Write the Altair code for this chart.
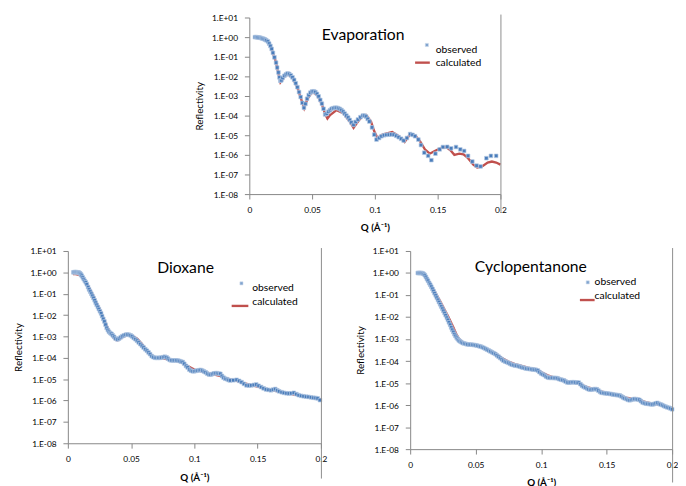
import altair as alt
import pandas as pd
import numpy as np

# ---------------- data (Q in 1/Angstrom, log10 reflectivity) ----------------
evap_obs_q = [0.0045, 0.0055, 0.0065, 0.0075, 0.0085, 0.0095, 0.0105, 0.0115, 0.0125, 0.0135,
              0.0148, 0.0158, 0.0168, 0.0178, 0.0188, 0.0200, 0.0213, 0.0222, 0.0232, 0.0240,
              0.0247, 0.0255, 0.0265, 0.0279, 0.0292, 0.0305, 0.0318, 0.0331, 0.0344, 0.0357,
              0.0370, 0.0383, 0.0396, 0.0409, 0.0422, 0.0435, 0.0447, 0.0460, 0.0473, 0.0486,
              0.0500, 0.0513, 0.0526, 0.0539, 0.0552, 0.0565, 0.0578, 0.0591, 0.0604, 0.0617,
              0.0630, 0.0643, 0.0656, 0.0669, 0.0682, 0.0695, 0.0708, 0.0721, 0.0734, 0.0747,
              0.0760, 0.0773, 0.0787, 0.0800, 0.0813, 0.0830, 0.0847, 0.0865, 0.0885, 0.0904,
              0.0917, 0.0930, 0.0943, 0.0956, 0.0977, 0.0995, 0.1013, 0.1034, 0.1053, 0.1073,
              0.1092, 0.1112, 0.1131, 0.1151, 0.1170, 0.1190, 0.1209, 0.1229, 0.1255, 0.1281,
              0.1300, 0.1320, 0.1346, 0.1367, 0.1393, 0.1424, 0.1450, 0.1482, 0.1516, 0.1542,
              0.1576, 0.1607, 0.1646, 0.1680, 0.1711, 0.1742, 0.1776, 0.1810, 0.1841, 0.1888,
              0.1924, 0.1966]
evap_obs_lr = [0.0, 0.0, -0.01, -0.02, -0.03, -0.05, -0.07, -0.09, -0.12, -0.16,
               -0.22, -0.33, -0.45, -0.6, -0.8, -1.03, -1.3, -1.55, -1.8, -2.05,
               -2.22, -2.2, -2.08, -1.97, -1.9, -1.85, -1.88, -1.95, -2.05, -2.18,
               -2.35, -2.55, -2.8, -3.05, -3.35, -3.6, -3.4, -3.14, -2.95, -2.83,
               -2.77, -2.76, -2.8, -2.89, -3.02, -3.2, -3.39, -3.65, -3.94, -3.9,
               -3.8, -3.72, -3.65, -3.62, -3.6, -3.6, -3.62, -3.66, -3.72, -3.8,
               -3.9, -4.0, -4.1, -4.22, -4.35, -4.47, -4.32, -4.2, -4.08, -4.0,
               -4.0, -4.05, -4.17, -4.3, -4.6, -4.97, -5.22, -5.14, -5.05, -5.0,
               -4.98, -4.97, -4.96, -4.97, -5.03, -5.1, -5.18, -5.27, -5.14, -4.94,
               -4.98, -5.05, -5.22, -5.5, -5.89, -6.05, -6.27, -5.94, -5.72, -5.6,
               -5.59, -5.67, -5.6, -5.72, -5.8, -6.05, -6.34, -6.55, -6.59, -6.17,
               -6.05, -6.05]

evap_calc_q = [0.0045, 0.008, 0.011, 0.0135, 0.0148, 0.0168, 0.0188, 0.0213, 0.0232, 0.0248,
               0.0262, 0.0279, 0.0305, 0.0344, 0.0383, 0.0409, 0.0437, 0.0462, 0.0500, 0.0539,
               0.0578, 0.0604, 0.0622, 0.0643, 0.0695, 0.0747, 0.0800, 0.0830, 0.0865, 0.0904,
               0.0930, 0.0969, 0.0995, 0.1021, 0.1060, 0.1138, 0.1190, 0.1237, 0.1281, 0.1320,
               0.1359, 0.1398, 0.1437, 0.1477, 0.1529, 0.1568, 0.1602, 0.1633, 0.1672, 0.1706,
               0.1742, 0.1784, 0.1815, 0.1854, 0.1898, 0.1932, 0.1966, 0.2000]
evap_calc_lr = [0.0, -0.02, -0.07, -0.15, -0.22, -0.45, -0.8, -1.3, -1.85, -2.3,
                -2.18, -1.99, -1.88, -2.07, -2.57, -3.08, -3.62, -3.16, -2.8, -2.92,
                -3.42, -3.92, -4.15, -3.97, -3.72, -3.87, -4.3, -4.62, -4.3, -4.0,
                -3.97, -4.3, -4.8, -5.14, -4.97, -4.84, -5.05, -5.34, -4.94, -5.0,
                -5.3, -5.72, -5.94, -5.8, -5.64, -5.6, -5.77, -6.0, -5.94, -5.97,
                -6.17, -6.5, -6.64, -6.59, -6.39, -6.34, -6.39, -6.5]

diox_obs_q = [0.0044, 0.0052, 0.0060, 0.0068, 0.0076, 0.0083, 0.0090, 0.0097, 0.0104, 0.0110,
              0.0118, 0.0126, 0.0134, 0.0142, 0.0150, 0.0160, 0.0168, 0.0177, 0.0186, 0.0194,
              0.0203, 0.0212, 0.0220, 0.0228, 0.0237, 0.0245, 0.0254, 0.0263, 0.0271, 0.0280,
              0.0289, 0.0298, 0.0307, 0.0316, 0.0325, 0.0335, 0.0345, 0.0355, 0.0366, 0.0378,
              0.0392, 0.0405, 0.0418, 0.0430, 0.0443, 0.0457, 0.0470, 0.0483, 0.0496, 0.0508,
              0.0521, 0.0534, 0.0547, 0.0560, 0.0573, 0.0586, 0.0599, 0.0612, 0.0625, 0.0638,
              0.0650, 0.0663, 0.0676, 0.0690, 0.0703, 0.0715, 0.0728, 0.0740, 0.0754, 0.0767,
              0.0780, 0.0792, 0.0805, 0.0818, 0.0831, 0.0844, 0.0857, 0.0870, 0.0883, 0.0895,
              0.0908, 0.0920, 0.0934, 0.0947, 0.0960, 0.0973, 0.0986, 0.0999, 0.1012, 0.1025,
              0.1038, 0.1050, 0.1063, 0.1076, 0.1089, 0.1102, 0.1115, 0.1128, 0.1141, 0.1154,
              0.1167, 0.1180, 0.1193, 0.1205, 0.1218, 0.1231, 0.1244, 0.1257, 0.1270, 0.1283,
              0.1308, 0.1334, 0.1354, 0.1373, 0.1392, 0.1412, 0.1431, 0.1450, 0.1470, 0.1489,
              0.1508, 0.1528, 0.1547, 0.1566, 0.1586, 0.1605, 0.1622, 0.1639, 0.1655, 0.1670,
              0.1690, 0.1708, 0.1728, 0.1747, 0.1766, 0.1786, 0.1806, 0.1825, 0.1844, 0.1863,
              0.1883, 0.1902, 0.1922, 0.1941, 0.1958, 0.1974, 0.1992]
diox_obs_lr = [0.0, 0.01, 0.01, 0.01, 0.0, 0.0, -0.02, -0.05, -0.1, -0.16,
               -0.24, -0.32, -0.4, -0.47, -0.56, -0.69, -0.8, -0.9, -1.0, -1.1,
               -1.2, -1.31, -1.42, -1.52, -1.62, -1.72, -1.82, -1.92, -2.05, -2.18,
               -2.3, -2.45, -2.6, -2.7, -2.78, -2.84, -2.88, -2.95, -3.02, -3.1,
               -3.14, -3.1, -3.04, -2.99, -2.95, -2.92, -2.91, -2.92, -2.95, -3.0,
               -3.07, -3.13, -3.2, -3.28, -3.36, -3.44, -3.52, -3.6, -3.67, -3.75,
               -3.83, -3.92, -3.97, -4.0, -4.0, -4.0, -4.0, -3.99, -3.97, -3.95,
               -3.98, -4.04, -4.1, -4.12, -4.12, -4.12, -4.12, -4.13, -4.15, -4.18,
               -4.2, -4.28, -4.38, -4.45, -4.55, -4.6, -4.63, -4.63, -4.61, -4.6,
               -4.58, -4.57, -4.6, -4.64, -4.68, -4.74, -4.78, -4.79, -4.76, -4.73,
               -4.72, -4.72, -4.74, -4.75, -4.85, -4.93, -4.98, -5.0, -5.04, -5.06,
               -5.05, -5.03, -5.08, -5.14, -5.22, -5.29, -5.3, -5.29, -5.27, -5.25,
               -5.31, -5.37, -5.43, -5.48, -5.5, -5.52, -5.49, -5.46, -5.52, -5.57,
               -5.61, -5.64, -5.66, -5.67, -5.66, -5.64, -5.7, -5.75, -5.78, -5.8,
               -5.82, -5.83, -5.85, -5.87, -5.88, -5.9, -5.98]

diox_calc_q = [0.0040, 0.006, 0.008, 0.010, 0.012, 0.014, 0.016, 0.018, 0.020, 0.0225,
               0.025, 0.0275, 0.030, 0.0325, 0.035, 0.0375, 0.0392, 0.041, 0.0435, 0.046,
               0.049, 0.052, 0.055, 0.058, 0.061, 0.064, 0.067, 0.070, 0.075, 0.080,
               0.085, 0.090, 0.095, 0.100, 0.105, 0.110, 0.115, 0.120, 0.125, 0.130,
               0.135, 0.140, 0.145, 0.150, 0.155, 0.160, 0.165, 0.170, 0.175, 0.180,
               0.185, 0.190, 0.195, 0.200]
diox_calc_lr = [-0.08, -0.08, -0.1, -0.16, -0.28, -0.42, -0.62, -0.86, -1.1, -1.4,
                -1.7, -2.05, -2.4, -2.72, -2.97, -3.14, -3.18, -3.12, -3.02, -2.96,
                -2.94, -3.0, -3.12, -3.32, -3.55, -3.77, -3.93, -4.0, -4.02, -4.08,
                -4.13, -4.22, -4.4, -4.55, -4.62, -4.7, -4.77, -4.84, -4.95, -5.03,
                -5.1, -5.2, -5.28, -5.35, -5.43, -5.5, -5.56, -5.62, -5.68, -5.73,
                -5.79, -5.84, -5.89, -5.95]

cyc_obs_q = [0.0058, 0.0065, 0.0072, 0.0080, 0.0088, 0.0096, 0.0104, 0.0112, 0.0120, 0.0128,
             0.0136, 0.0145, 0.0153, 0.0161, 0.0170, 0.0178, 0.0186, 0.0195, 0.0203, 0.0212,
             0.0220, 0.0229, 0.0237, 0.0246, 0.0254, 0.0263, 0.0271, 0.0280, 0.0288, 0.0296,
             0.0305, 0.0313, 0.0321, 0.0330, 0.0338, 0.0346, 0.0355, 0.0363, 0.0371, 0.0380,
             0.0390, 0.0401, 0.0413, 0.0425, 0.0437, 0.0450, 0.0462, 0.0475, 0.0487, 0.0500,
             0.0512, 0.0525, 0.0537, 0.0550, 0.0562, 0.0575, 0.0587, 0.0600, 0.0612, 0.0625,
             0.0637, 0.0650, 0.0662, 0.0675, 0.0687, 0.0700, 0.0712, 0.0725, 0.0737, 0.0750,
             0.0762, 0.0775, 0.0787, 0.0800, 0.0812, 0.0825, 0.0837, 0.0850, 0.0862, 0.0875,
             0.0887, 0.0900, 0.0912, 0.0925, 0.0937, 0.0950, 0.0962, 0.0975, 0.0987, 0.1000,
             0.1012, 0.1025, 0.1037, 0.1050, 0.1062, 0.1075, 0.1087, 0.1100, 0.1112, 0.1125,
             0.1137, 0.1150, 0.1162, 0.1175, 0.1187, 0.1200, 0.1212, 0.1225, 0.1237, 0.1250,
             0.1262, 0.1275, 0.1287, 0.1300, 0.1312, 0.1325, 0.1337, 0.1350, 0.1362, 0.1375,
             0.1387, 0.1400, 0.1412, 0.1425, 0.1437, 0.1450, 0.1462, 0.1475, 0.1487, 0.1500,
             0.1512, 0.1525, 0.1537, 0.1550, 0.1562, 0.1575, 0.1587, 0.1600, 0.1612, 0.1625,
             0.1637, 0.1650, 0.1662, 0.1675, 0.1687, 0.1700, 0.1712, 0.1725, 0.1737, 0.1750,
             0.1762, 0.1775, 0.1787, 0.1800, 0.1812, 0.1825, 0.1837, 0.1850, 0.1862, 0.1875,
             0.1887, 0.1900, 0.1912, 0.1925, 0.1937, 0.1950, 0.1962, 0.1975, 0.1987, 0.2000]
cyc_obs_lr = [0.0, 0.0, 0.0, 0.0, 0.0, -0.02, -0.05, -0.1, -0.18, -0.27,
              -0.35, -0.45, -0.53, -0.62, -0.72, -0.82, -0.92, -1.02, -1.12, -1.22,
              -1.32, -1.42, -1.52, -1.62, -1.72, -1.82, -1.92, -2.03, -2.13, -2.24,
              -2.35, -2.47, -2.58, -2.68, -2.78, -2.86, -2.94, -3.0, -3.06, -3.1,
              -3.14, -3.18, -3.2, -3.22, -3.24, -3.25, -3.25, -3.26, -3.27, -3.28,
              -3.3, -3.32, -3.34, -3.37, -3.4, -3.44, -3.48, -3.52, -3.56, -3.6,
              -3.64, -3.68, -3.74, -3.8, -3.86, -3.92, -3.98, -4.02, -4.05, -4.08,
              -4.12, -4.16, -4.18, -4.2, -4.21, -4.23, -4.25, -4.28, -4.3, -4.32,
              -4.34, -4.35, -4.36, -4.37, -4.38, -4.39, -4.4, -4.43, -4.5, -4.56,
              -4.6, -4.64, -4.7, -4.74, -4.76, -4.76, -4.76, -4.77, -4.77, -4.78,
              -4.82, -4.84, -4.86, -4.88, -4.93, -4.97, -4.98, -4.97, -4.96, -4.96,
              -4.97, -4.98, -4.98, -5.05, -5.12, -5.17, -5.2, -5.24, -5.28, -5.3,
              -5.29, -5.28, -5.27, -5.28, -5.34, -5.4, -5.44, -5.45, -5.46, -5.47,
              -5.48, -5.49, -5.5, -5.52, -5.53, -5.54, -5.55, -5.56, -5.6, -5.65,
              -5.69, -5.72, -5.76, -5.78, -5.76, -5.74, -5.72, -5.73, -5.74, -5.76,
              -5.82, -5.88, -5.91, -5.93, -5.94, -5.95, -5.96, -5.97, -5.95, -5.92,
              -5.9, -5.94, -5.97, -6.0, -6.04, -6.07, -6.1, -6.12, -6.15, -6.19]

cyc_calc_q = [0.0045, 0.007, 0.009, 0.011, 0.013, 0.015, 0.017, 0.019, 0.021, 0.023,
              0.025, 0.027, 0.029, 0.031, 0.033, 0.035, 0.037, 0.039, 0.041, 0.044,
              0.047, 0.050, 0.055, 0.060, 0.065, 0.070, 0.075, 0.080, 0.085, 0.090,
              0.095, 0.100, 0.105, 0.110, 0.115, 0.120, 0.125, 0.130, 0.135, 0.140,
              0.145, 0.150, 0.155, 0.160, 0.165, 0.170, 0.175, 0.180, 0.185, 0.190,
              0.195, 0.200]
cyc_calc_lr = [-0.03, -0.03, -0.05, -0.12, -0.3, -0.5, -0.68, -0.88, -1.08, -1.3,
               -1.52, -1.75, -1.98, -2.22, -2.48, -2.75, -2.97, -3.1, -3.17, -3.22,
               -3.25, -3.28, -3.36, -3.5, -3.66, -3.86, -4.02, -4.14, -4.22, -4.3,
               -4.37, -4.5, -4.65, -4.75, -4.83, -4.92, -4.98, -5.06, -5.18, -5.26,
               -5.36, -5.44, -5.5, -5.57, -5.66, -5.72, -5.78, -5.87, -5.93, -5.98,
               -6.06, -6.15]

x_ticks = [0, 0.05, 0.1, 0.15, 0.2]
y_ticks = [1e-8, 1e-7, 1e-6, 1e-5, 1e-4, 1e-3, 1e-2, 1e-1, 1e0, 1e1]
legend_labels = ["observed", "calculated"]

BLUE = "#4a7dbb"
RED = "#c0504d"
FONT = "Lato"

label_expr = ("'1.E' + (round(log(datum.value)/LN10) >= 0 ? '+' : '-') + "
              "(abs(round(log(datum.value)/LN10)) < 10 ? '0' : '') + abs(round(log(datum.value)/LN10))")


def panel(oq, olr, cq, clr, title, w, h, tpos, lg, btop, bbot):
    obs = pd.DataFrame({"Q": oq, "R": 10.0 ** np.array(olr)})
    calc = pd.DataFrame({"Q": cq, "R": 10.0 ** np.array(clr)})
    x = alt.X("Q:Q", scale=alt.Scale(domain=[0, 0.2], nice=False, zero=False),
              axis=alt.Axis(values=x_ticks, format=".2~f", title="Q (Å⁻¹)",
                            titleFontWeight="bold", labelFlush=False))
    y = alt.Y("R:Q", scale=alt.Scale(type="log", domain=[1e-8, 10], nice=False),
              axis=alt.Axis(values=y_ticks, labelExpr=label_expr, title="Reflectivity",
                            titleFontWeight="normal"))
    line = alt.Chart(calc).mark_line(color=RED, strokeWidth=2.4).encode(x=x, y=y)
    pts = alt.Chart(obs).mark_square(size=14, color=BLUE, opacity=1,
                                     stroke="#b9cbe4", strokeWidth=0.7).encode(x=x, y=y)
    one = pd.DataFrame({"t": [title], "o": [legend_labels[0]], "c": [legend_labels[1]]})
    base = alt.Chart(one)
    ttl = base.mark_text(font=FONT, fontSize=16, color="#000").encode(
        x=alt.value(tpos[0]), y=alt.value(tpos[1]), text="t:N")
    sq = base.mark_square(size=10, color=BLUE, stroke="#b9cbe4", strokeWidth=0.6).encode(
        x=alt.value(lg["sq"][0]), y=alt.value(lg["sq"][1]))
    t_obs = base.mark_text(font=FONT, fontSize=10.5, align="left", color="#000").encode(
        x=alt.value(lg["tx"]), y=alt.value(lg["ty"][0]), text="o:N")
    rl = base.mark_rule(color=RED, strokeWidth=2.4).encode(
        x=alt.value(lg["ln"][0]), x2=alt.value(lg["ln"][1]), y=alt.value(lg["ln"][2]))
    t_calc = base.mark_text(font=FONT, fontSize=10.5, align="left", color="#000").encode(
        x=alt.value(lg["tx"]), y=alt.value(lg["ty"][1]), text="c:N")
    border = base.mark_rule(color="#8c8c8c", strokeWidth=1).encode(
        x=alt.value(w + 0.5), y=alt.value(btop), y2=alt.value(h + bbot))
    return alt.layer(line, pts, ttl, sq, t_obs, rl, t_calc, border).properties(width=w, height=h)


top = panel(evap_obs_q, evap_obs_lr, evap_calc_q, evap_calc_lr, "Evaporation", 256, 180,
            (116, 18), {"sq": (181, 28), "tx": 190, "ty": (33, 46), "ln": (169, 184, 46)}, -3, 18)
bl = panel(diox_obs_q, diox_obs_lr, diox_calc_q, diox_calc_lr, "Dioxane", 258, 196,
           (120, 17), {"sq": (177, 33), "tx": 188, "ty": (38, 52), "ln": (167, 184, 56)}, -3, 36)
br = panel(cyc_obs_q, cyc_obs_lr, cyc_calc_q, cyc_calc_lr, "Cyclopentanone", 267, 202,
           (123, 16), {"sq": (181, 32), "tx": 188, "ty": (32, 46), "ln": (173, 188, 50)}, -3, 34)

spacer = alt.Chart(pd.DataFrame({"a": [0]})).mark_point(opacity=0).properties(width=129, height=10)

chart = alt.vconcat(
    alt.hconcat(spacer, top, spacing=0),
    alt.hconcat(bl, br, spacing=29),
    spacing=14,
).properties(
    padding={"left": 5, "top": 1, "right": 0, "bottom": 0}
).configure_view(stroke=None).configure_axis(
    grid=False,
    domainColor="#868686",
    tickColor="#868686",
    tickSize=5,
    labelFont=FONT,
    labelFontSize=8.5,
    labelColor="#000",
    titleFont=FONT,
    titleFontSize=10,
    titleColor="#000",
).configure_axisY(labelPadding=7, titlePadding=7).configure_axisX(labelPadding=7, titlePadding=9)

chart.save("out.html", embed_options={"renderer": "svg", "actions": False})
